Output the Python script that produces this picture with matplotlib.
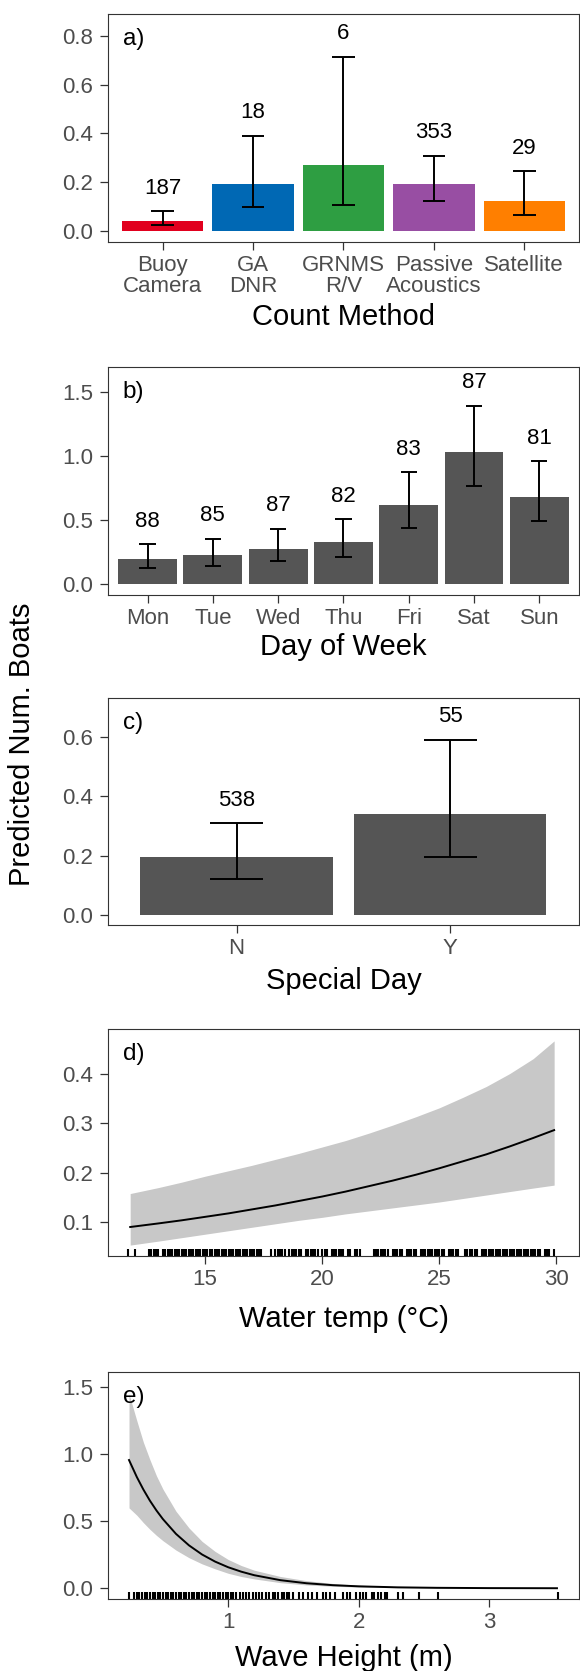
import matplotlib
matplotlib.use("Agg")
import matplotlib.pyplot as plt

plt.rcParams["font.family"] = ["Liberation Sans", "DejaVu Sans"]

# a) count method
methods = ["Buoy\nCamera", "GA\nDNR", "GRNMS\nR/V", "Passive\nAcoustics", "Satellite"]
method_pred = [0.042, 0.193, 0.272, 0.193, 0.124]
method_lo = [0.025, 0.097, 0.105, 0.122, 0.064]
method_hi = [0.081, 0.390, 0.715, 0.308, 0.245]
method_n = [187, 18, 6, 353, 29]
method_colors = ["#E1001E", "#0068B4", "#2E9E42", "#984EA3", "#FF7F00"]

# b) day of week
days = ["Mon", "Tue", "Wed", "Thu", "Fri", "Sat", "Sun"]
day_pred = [0.193, 0.224, 0.276, 0.328, 0.617, 1.029, 0.682]
day_lo = [0.123, 0.138, 0.182, 0.213, 0.438, 0.766, 0.490]
day_hi = [0.310, 0.354, 0.432, 0.505, 0.873, 1.393, 0.959]
day_n = [88, 85, 87, 82, 83, 87, 81]

# c) special day
special = ["N", "Y"]
special_pred = [0.194, 0.339]
special_lo = [0.122, 0.195]
special_hi = [0.309, 0.590]
special_n = [538, 55]

# d) water temperature effect
temp_x = [11.8, 13, 14, 15, 16, 17, 18, 19, 20, 21, 22, 23, 24, 25, 26, 27, 28, 29, 29.9]
temp_fit = [0.0905, 0.0977, 0.104, 0.111, 0.118, 0.126, 0.134, 0.143, 0.152, 0.162,
            0.173, 0.184, 0.196, 0.209, 0.223, 0.237, 0.253, 0.270, 0.286]
temp_hi = [0.158, 0.170, 0.181, 0.193, 0.204, 0.215, 0.227, 0.239, 0.252, 0.265,
           0.280, 0.296, 0.313, 0.331, 0.352, 0.374, 0.400, 0.430, 0.466]
temp_lo = [0.054, 0.062, 0.069, 0.076, 0.083, 0.090, 0.097, 0.104, 0.110, 0.117,
           0.123, 0.129, 0.135, 0.141, 0.148, 0.155, 0.162, 0.169, 0.175]
temp_rug = [
    11.7, 12.0, 12.6, 12.7, 12.8, 12.9, 13.0, 13.2, 13.3,
    13.4, 13.5, 13.6, 13.7, 13.8, 13.9, 14.0, 14.1, 14.2, 14.3, 14.4, 14.5,
    14.6, 14.7, 14.8, 14.9, 15.0, 15.1, 15.2, 15.3, 15.4, 15.5, 15.6, 15.7,
    15.8, 15.9, 16.0, 16.1, 16.2, 16.3, 16.4, 16.5, 16.6, 16.7, 16.8, 16.9,
    17.0, 17.1, 17.2, 17.3, 17.4,
    17.8, 18.0, 18.1, 18.2, 18.3, 18.4, 18.6, 18.7, 18.8, 18.9, 19.0, 19.1,
    19.3, 19.4, 19.5, 19.6, 19.7, 19.8, 20.0, 20.1, 20.2, 20.4, 20.5, 20.6,
    20.7, 20.8, 20.9, 21.1, 21.2, 21.4, 21.5, 21.6,
    22.2, 22.3, 22.4, 22.5, 22.6, 22.7, 22.8, 23.0, 23.1, 23.2, 23.3, 23.4,
    23.6, 23.7, 23.8, 23.9, 24.0, 24.2, 24.3, 24.4, 24.5, 24.6, 24.7, 24.8,
    24.9, 25.0, 25.1, 25.2, 25.4, 25.5, 25.6, 25.7, 25.8, 26.1, 26.2, 26.3,
    26.4, 26.5, 26.6, 26.8, 26.9, 27.0, 27.1, 27.2, 27.3, 27.4, 27.5, 27.6,
    27.7, 27.8, 27.9, 28.0, 28.1, 28.2, 28.3, 28.4, 28.5, 28.6, 28.7, 28.8,
    28.9, 29.0, 29.1, 29.2, 29.3, 29.5, 29.6, 29.7, 29.9,
]

# e) wave height effect
wave_x = [0.24, 0.30, 0.35, 0.40, 0.45, 0.50, 0.60, 0.70, 0.80, 0.90, 1.00,
          1.10, 1.20, 1.40, 1.60, 1.80, 2.00, 2.30, 2.60, 3.00, 3.52]
wave_fit = [0.957, 0.830, 0.737, 0.654, 0.581, 0.516, 0.406, 0.320, 0.252, 0.199, 0.157,
            0.124, 0.0975, 0.0605, 0.0376, 0.0233, 0.0145, 0.0070, 0.0035, 0.0013, 0.0004]
wave_hi = [1.45, 1.25, 1.09, 0.96, 0.84, 0.74, 0.575, 0.45, 0.35, 0.275, 0.215,
           0.17, 0.135, 0.088, 0.057, 0.036, 0.023, 0.012, 0.006, 0.002, 0.0008]
wave_lo = [0.60, 0.545, 0.49, 0.44, 0.395, 0.355, 0.285, 0.228, 0.182, 0.145, 0.112,
           0.088, 0.070, 0.042, 0.025, 0.015, 0.009, 0.004, 0.002, 0.0007, 0.0002]
wave_rug = [
    0.24, 0.28, 0.30, 0.32, 0.34, 0.36, 0.38, 0.40, 0.42, 0.44, 0.46, 0.48,
    0.50, 0.52, 0.54, 0.56, 0.58, 0.60, 0.62, 0.64, 0.66, 0.68, 0.70, 0.72,
    0.74, 0.76, 0.78, 0.80, 0.82, 0.84, 0.86, 0.88, 0.90, 0.92, 0.94, 0.96,
    0.98, 1.00, 1.02, 1.04, 1.06, 1.09, 1.11, 1.14, 1.16, 1.19, 1.21, 1.24,
    1.26, 1.29, 1.31, 1.34, 1.36, 1.38, 1.41, 1.43, 1.45, 1.47, 1.50, 1.54,
    1.57, 1.61, 1.64, 1.68, 1.73, 1.75, 1.78, 1.82, 1.88, 1.91, 1.93, 1.98,
    2.01, 2.03, 2.06, 2.10, 2.12, 2.15, 2.17, 2.20, 2.22, 2.30, 2.34, 2.46,
    2.61, 3.53,
]

W, H = 580, 1671
fig = plt.figure(figsize=(W / 100, H / 100), dpi=100)

TICK_SIZE = 16
TITLE_SIZE = 21
GREY_BAR = "#555555"
BAND = "#C8C8C8"


def make_axes(top, bottom):
    left, right = 108.4, 578.5
    return fig.add_axes([left / W, 1 - bottom / H, (right - left) / W, (bottom - top) / H])


def style(ax, tag, ylim, yticks):
    for s in ax.spines.values():
        s.set_color("#333333")
        s.set_linewidth(0.8)
    ax.tick_params(length=5.8, width=0.9, color="#333333", labelsize=TICK_SIZE,
                   labelcolor="#4D4D4D")
    ax.tick_params(axis="y", pad=5)
    ax.tick_params(axis="x", pad=3.5)
    ax.set_ylim(*ylim)
    ax.set_yticks(yticks)
    ax.set_yticklabels([f"{t:.1f}" for t in yticks])
    ax.text(0.03, 0.89, tag, transform=ax.transAxes, fontsize=17.5,
            ha="left", va="center")


def bar_panel(ax, cats, pred, lo, hi, n, colors):
    pos = list(range(len(cats)))
    ax.bar(pos, pred, width=0.9, color=colors, edgecolor="none")
    ax.vlines(pos, lo, hi, color="black", lw=1.4)
    ax.hlines(lo, [p - 0.125 for p in pos], [p + 0.125 for p in pos], color="black", lw=1.4)
    ax.hlines(hi, [p - 0.125 for p in pos], [p + 0.125 for p in pos], color="black", lw=1.4)
    for p, h, c in zip(pos, hi, n):
        ax.annotate(str(c), (p, h), xytext=(0, 23), textcoords="offset pixels",
                    ha="center", va="center", fontsize=TICK_SIZE)
    ax.set_xticks(pos)
    ax.set_xticklabels(cats, linespacing=1.0)
    ax.set_xlim(-0.6, len(cats) - 0.4)


# a)
ax_a = make_axes(14, 242)
bar_panel(ax_a, methods, method_pred, method_lo, method_hi, method_n, method_colors)
style(ax_a, "a)", (-0.045, 0.89), [0.0, 0.2, 0.4, 0.6, 0.8])
ax_a.set_xlabel("Count Method", fontsize=TITLE_SIZE, labelpad=4.5)

# b)
ax_b = make_axes(367, 595)
bar_panel(ax_b, days, day_pred, day_lo, day_hi, day_n, GREY_BAR)
style(ax_b, "b)", (-0.086, 1.695), [0.0, 0.5, 1.0, 1.5])
ax_b.set_xlabel("Day of Week", fontsize=TITLE_SIZE, labelpad=3)

# c)
ax_c = make_axes(698, 925)
bar_panel(ax_c, special, special_pred, special_lo, special_hi, special_n, GREY_BAR)
style(ax_c, "c)", (-0.034, 0.731), [0.0, 0.2, 0.4, 0.6])
ax_c.set_xlabel("Special Day", fontsize=TITLE_SIZE, labelpad=5.5)

# d)
ax_d = make_axes(1029, 1256)
ax_d.fill_between(temp_x, temp_lo, temp_hi, color=BAND, lw=0)
ax_d.plot(temp_x, temp_fit, color="black", lw=1.4)
ax_d.vlines(temp_rug, 0, 0.03, transform=ax_d.get_xaxis_transform(), color="black", lw=1.5)
style(ax_d, "d)", (0.032, 0.49), [0.1, 0.2, 0.3, 0.4])
ax_d.set_xlim(10.87, 30.94)
ax_d.set_xticks([15, 20, 25, 30])
ax_d.set_xlabel("Water temp (°C)", fontsize=TITLE_SIZE, labelpad=11)

# e)
ax_e = make_axes(1372, 1599)
ax_e.fill_between(wave_x, wave_lo, wave_hi, color=BAND, lw=0)
ax_e.plot(wave_x, wave_fit, color="black", lw=1.4)
ax_e.vlines(wave_rug, 0, 0.03, transform=ax_e.get_xaxis_transform(), color="black", lw=1.5)
style(ax_e, "e)", (-0.08, 1.614), [0.0, 0.5, 1.0, 1.5])
ax_e.set_xlim(0.082, 3.685)
ax_e.set_xticks([1, 2, 3])
ax_e.set_xlabel("Wave Height (m)", fontsize=TITLE_SIZE, labelpad=8)

fig.text(22.5 / W, 1 - 744 / H, "Predicted Num. Boats", rotation=90,
         ha="center", va="center", fontsize=TITLE_SIZE)

fig.savefig("out.png", dpi=100)
